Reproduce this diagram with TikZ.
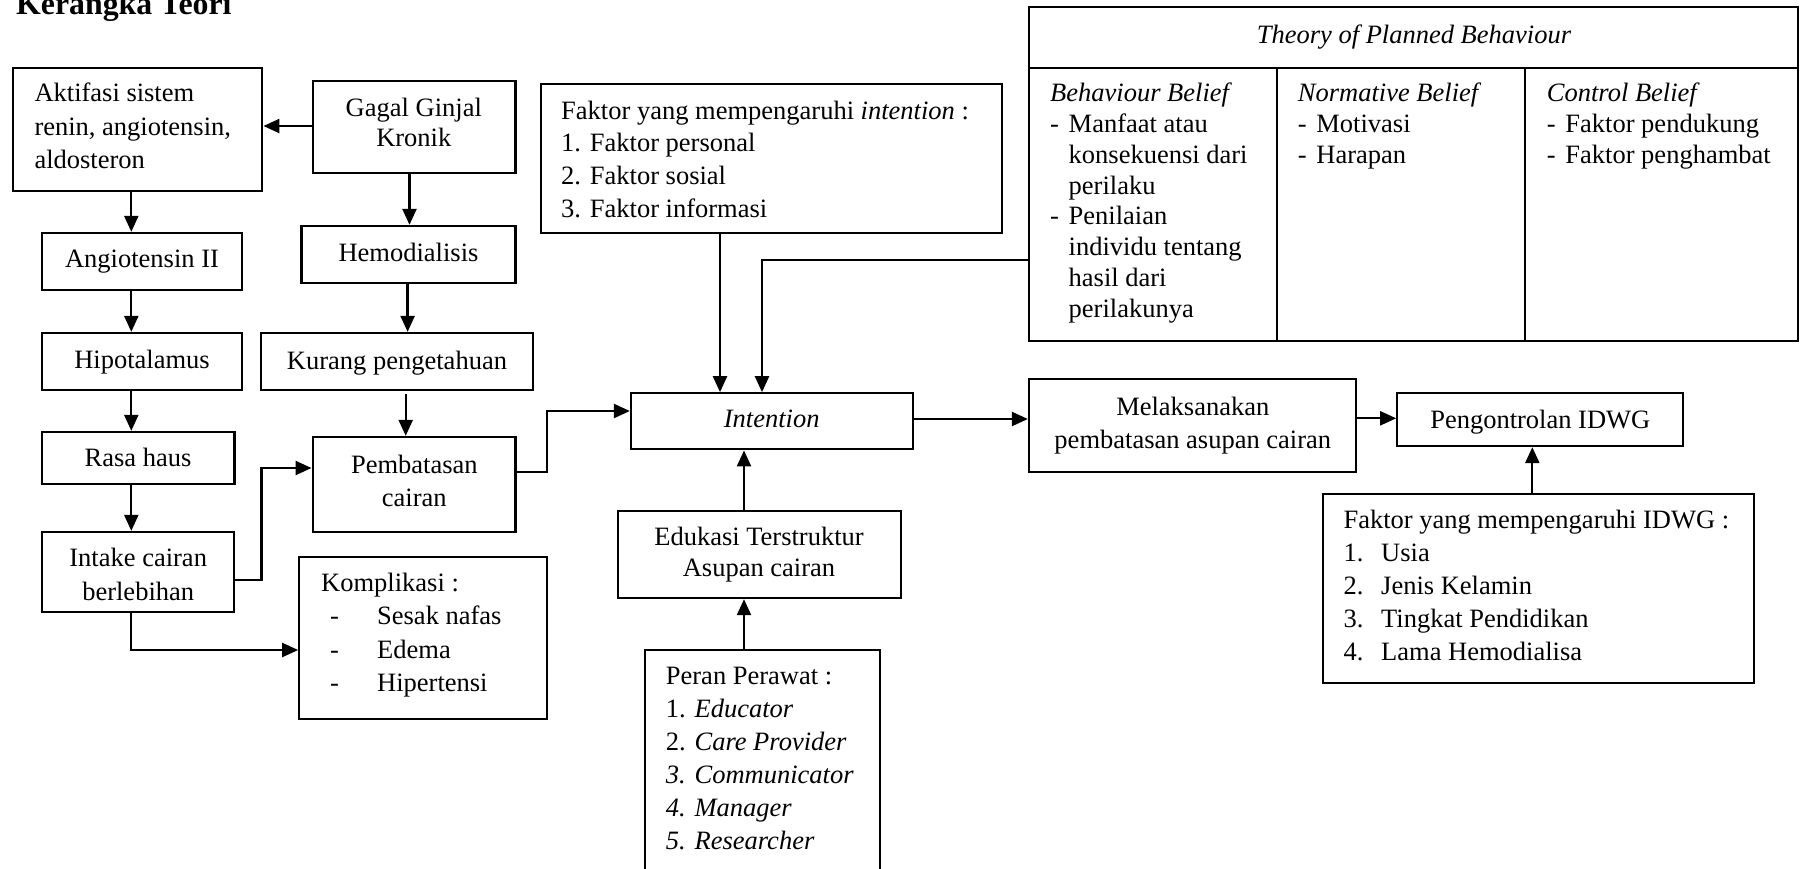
\documentclass[tikz,border=0pt]{standalone}
\usepackage{fontspec}
\setmainfont{Liberation Serif}
\usetikzlibrary{arrows.meta,fit}
\newcommand\Lt[2]{{\fontsize{26.5}{#1}\selectfont\begin{tabular}[t]{@{}l@{}}#2\end{tabular}}}
\newcommand\Ct[2]{{\fontsize{26.5}{#1}\selectfont\begin{tabular}[t]{@{}c@{}}#2\end{tabular}}}
\newcommand\tdash[1]{\makebox[18.5pt][l]{-}#1}
\newcommand\tind[1]{\hspace*{18.5pt}#1}
\newcommand\kdash[1]{\hspace*{9pt}\makebox[47pt][l]{-}#1}
\newcommand\inum[2]{\makebox[37.7pt][l]{#1}#2}
\begin{document}
\begin{tikzpicture}[x=1pt,y=-1pt,
  box/.style={draw, inner sep=0pt, line width=2.3pt},
  txt/.style={inner sep=0pt, font=\fontsize{26.5}{33}\selectfont},
  arr/.style={-{Triangle[length=16pt,width=14pt]}, line width=2.3pt},
  sep/.style={line width=2.3pt}]
\path[fill=white, use as bounding box] (0,0) rectangle (1803,868);

% title
\node[anchor=base west, inner sep=0pt, font=\fontsize{31.8}{38}\selectfont\bfseries] (title) at (16,14) {Kerangka Teori};

% boxes
\node[box, fit={(13.3,68) (262.3,190.7)}] (akt) {};
\node[box, fit={(312.7,81) (515.5,173)}] (ggk) {};
\node[box, fit={(41.7,233) (242,290)}] (ang) {};
\node[box, fit={(301.6,226) (515.5,283)}] (hemo) {};
\node[box, fit={(41.7,333) (242,390)}] (hipo) {};
\node[box, fit={(261,333) (532.7,390)}] (kur) {};
\node[box, fit={(41.7,432) (234.6,484)}] (rasa) {};
\node[box, fit={(312.7,437) (515.5,532)}] (pemb) {};
\node[box, fit={(41.7,532) (233.8,612)}] (intake) {};
\node[box, fit={(299.3,557) (547,719)}] (komp) {};
\node[box, fit={(540.7,84) (1002,233)}] (fint) {};
\node[box, fit={(631,393.3) (913.3,449.3)}] (intn) {};
\node[box, fit={(617.7,510.7) (901,598)}] (edu) {};
\node[box, fit={(645,650) (880,905)}] (peran) {};
\node[box, fit={(1029,7) (1797.7,341)}] (tpb) {};
\node[box, fit={(1029,379.3) (1355.7,472)}] (mel) {};
\node[box, fit={(1397.3,393.3) (1683.3,446)}] (peng) {};
\node[box, fit={(1322.7,494) (1754.3,683.3)}] (fidwg) {};

% TPB table lines
\coordinate (th) at (0,68);
\coordinate (c1) at (1277,0);
\coordinate (c2) at (1525,0);
\draw[sep] (tpb.west |- th) -- (tpb.east |- th);
\draw[sep] (c1 |- th) -- (c1 |- tpb.south);
\draw[sep] (c2 |- th) -- (c2 |- tpb.south);

% texts (left aligned)
\node[txt, anchor=base west] (takt) at (34.3,101.7) {\Lt{33.3}{Aktifasi sistem\\renin, angiotensin,\\aldosteron}};
\node[txt, anchor=base west] (tfint) at (561,119.3) {\Lt{32.6}{Faktor yang mempengaruhi \textit{intention} :\\1. Faktor personal\\2. Faktor sosial\\3. Faktor informasi}};
\node[txt, anchor=base west] (tkomp) at (321,591.5) {\Lt{33.3}{Komplikasi :\\\kdash{Sesak nafas}\\\kdash{Edema}\\\kdash{Hipertensi}}};
\node[txt, anchor=base west] (tperan) at (665.7,684) {\Lt{33}{Peran Perawat :\\1. \textit{Educator}\\2. \textit{Care Provider}\\\textit{3. Communicator}\\\textit{4. Manager}\\\textit{5. Researcher}}};
\node[txt, anchor=base west] (tfidwg) at (1343.3,528.3) {\Lt{33}{Faktor yang mempengaruhi IDWG :\\\inum{1.}{Usia}\\\inum{2.}{Jenis Kelamin}\\\inum{3.}{Tingkat Pendidikan}\\\inum{4.}{Lama Hemodialisa}}};
\node[txt, anchor=base] (ttpb) at (1414,43.5) {\textit{Theory of Planned Behaviour}};
\node[txt, anchor=base west] (tcol1) at (1050,101.7) {\Lt{30.8}{\textit{Behaviour Belief}\\\tdash{Manfaat atau}\\\tind{konsekuensi dari}\\\tind{perilaku}\\\tdash{Penilaian}\\\tind{individu tentang}\\\tind{hasil dari}\\\tind{perilakunya}}};
\node[txt, anchor=base west] (tcol2) at (1297.7,101.7) {\Lt{30.8}{\textit{Normative Belief}\\\tdash{Motivasi}\\\tdash{Harapan}}};
\node[txt, anchor=base west] (tcol3) at (1546.7,101.7) {\Lt{30.8}{\textit{Control Belief}\\\tdash{Faktor pendukung}\\\tdash{Faktor penghambat}}};

% texts (centred)
\node[txt, anchor=base] (tggk) at (413.8,116.7) {\Ct{30}{Gagal Ginjal\\Kronik}};
\node[txt, anchor=base] (tang) at (142,267.7) {Angiotensin II};
\node[txt, anchor=base] (themo) at (408.5,261.7) {Hemodialisis};
\node[txt, anchor=base] (thipo) at (142,368.3) {Hipotalamus};
\node[txt, anchor=base] (tkur) at (397,369.3) {Kurang pengetahuan};
\node[txt, anchor=base] (trasa) at (138,466.7) {Rasa haus};
\node[txt, anchor=base] (tpemb) at (414.3,473.3) {\Ct{33.4}{Pembatasan\\cairan}};
\node[txt, anchor=base] (tintake) at (138.2,566.7) {\Ct{33.3}{Intake cairan\\berlebihan}};
\node[txt, anchor=base] (tintn) at (771.7,427.5) {\textit{Intention}};
\node[txt, anchor=base] (tedu) at (759,545.7) {\Ct{31}{Edukasi Terstruktur\\Asupan cairan}};
\node[txt, anchor=base] (tmel) at (1192.8,415) {\Ct{33.3}{Melaksanakan\\pembatasan asupan cairan}};
\node[txt, anchor=base] (tpeng) at (1540.3,428.3) {Pengontrolan IDWG};

% connectors
\coordinate (xa) at (131.3,0);
\coordinate (ya) at (0,126);
\coordinate (xb) at (409.5,0);
\coordinate (xc) at (407.6,0);
\coordinate (xd) at (405.7,0);
\coordinate (ye) at (0,580);
\coordinate (xe) at (261.4,0);
\coordinate (yf) at (0,468);
\coordinate (yg) at (0,650);
\coordinate (yh) at (0,472);
\coordinate (xh) at (547,0);
\coordinate (yi) at (0,411);
\coordinate (xj) at (720,0);
\coordinate (yk) at (0,260);
\coordinate (xk) at (762,0);
\coordinate (yl) at (0,419);
\coordinate (xm) at (744,0);
\coordinate (yn) at (0,418.3);
\coordinate (xo) at (1532.3,0);

\draw[arr] (ggk.west |- ya) -- (akt.east |- ya);
\draw[arr] (akt.south -| xa) -- (ang.north -| xa);
\draw[arr] (ang.south -| xa) -- (hipo.north -| xa);
\draw[arr] (hipo.south -| xa) -- (rasa.north -| xa);
\draw[arr] (rasa.south -| xa) -- (intake.north -| xa);
\draw[arr] (ggk.south -| xb) -- (hemo.north -| xb);
\draw[arr] (hemo.south -| xc) -- (kur.north -| xc);
\draw[arr, shorten <=3pt] (kur.south -| xd) -- (pemb.north -| xd);
\draw[arr] (intake.east |- ye) -| (xe |- yf) -- (pemb.west |- yf);
\draw[arr] (intake.south -| xa) |- (komp.west |- yg);
\draw[arr] (pemb.east |- yh) -| (xh |- yi) -- (intn.west |- yi);
\draw[arr] (fint.south -| xj) -- (intn.north -| xj);
\draw[arr] (tpb.west |- yk) -| (intn.north -| xk);
\draw[arr] (intn.east |- yl) -- (mel.west |- yl);
\draw[arr] (edu.north -| xm) -- (intn.south -| xm);
\draw[arr] (peran.north -| xm) -- (edu.south -| xm);
\draw[arr] (mel.east |- yn) -- (peng.west |- yn);
\draw[arr] (fidwg.north -| xo) -- (peng.south -| xo);
\end{tikzpicture}
\end{document}
